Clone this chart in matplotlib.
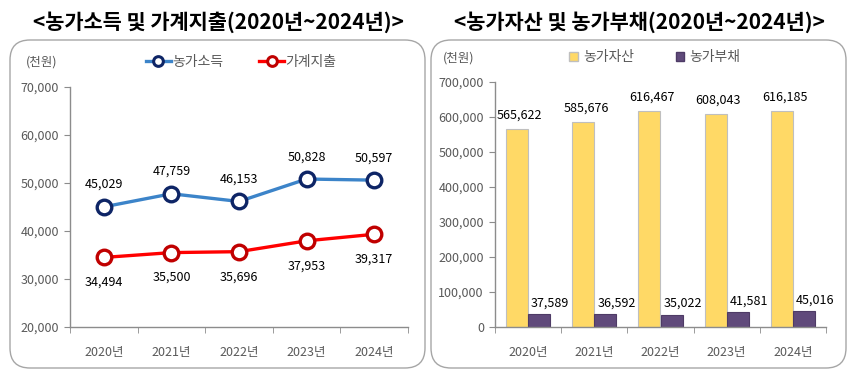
import numpy as np
import matplotlib
matplotlib.use("Agg")
import matplotlib.pyplot as plt
from matplotlib.patches import FancyBboxPatch, Patch
from matplotlib.lines import Line2D
from matplotlib.transforms import IdentityTransform
from matplotlib.ticker import FuncFormatter

plt.rcParams['font.family'] = ['Noto Sans CJK KR', 'DejaVu Sans']

years = ['2020년', '2021년', '2022년', '2023년', '2024년']
farm_income = [45029, 47759, 46153, 50828, 50597]
household_spend = [34494, 35500, 35696, 37953, 39317]
farm_assets = [565622, 585676, 616467, 608043, 616185]
farm_debt = [37589, 36592, 35022, 41581, 45016]

gray = '#595959'
axis_gray = '#8C8C8C'
fmt = FuncFormatter(lambda v, p: f'{int(v):,}')

fig = plt.figure(figsize=(8.5, 3.78), dpi=100)

# rounded panel frames (pixel coords)
for x0 in (10, 431):
    fig.patches.append(FancyBboxPatch((x0, 10), 415, 328,
                                      boxstyle='round,pad=0,rounding_size=20',
                                      transform=IdentityTransform(),
                                      facecolor='none', edgecolor='#A6A6A6',
                                      linewidth=1.0, zorder=-1))

fig.text(218/850, 1-22/378, '<농가소득 및 가계지출(2020년~2024년)>',
         ha='center', va='center', fontsize=15, fontweight='bold')
fig.text(639/850, 1-22/378, '<농가자산 및 농가부채(2020년~2024년)>',
         ha='center', va='center', fontsize=15, fontweight='bold')


def style_axis(ax):
    for s in ('top', 'right'):
        ax.spines[s].set_visible(False)
    for s in ('left', 'bottom'):
        ax.spines[s].set_color(axis_gray)
        ax.spines[s].set_linewidth(1.0)
    ax.set_xlim(-0.5, len(years) - 0.5)
    ax.set_xticks(range(len(years)))
    ax.set_xticklabels(years)
    ax.set_xticks(np.arange(-0.5, len(years)), minor=True)
    ax.tick_params(axis='x', which='major', length=0, pad=14, colors=gray, labelsize=9)
    ax.tick_params(axis='x', which='minor', length=4, color=axis_gray, direction='out')
    ax.tick_params(axis='y', length=4, color=axis_gray, colors=gray, labelsize=9, pad=4)
    ax.yaxis.set_major_formatter(fmt)
    ax.patch.set_alpha(0)


# left: income and spending lines
ax1 = fig.add_axes([70/850, 1-327/378, 338/850, 240/378])
x = np.arange(len(years))
ax1.plot(x, farm_income, color='#3C84C9', lw=2.4, marker='o', ms=10.5,
         mfc='white', mec='#0E2566', mew=2.4, zorder=3)
ax1.plot(x, household_spend, color='#FF0000', lw=2.4, marker='o', ms=10.5,
         mfc='white', mec='#C00000', mew=2.4, zorder=3)
for i in range(len(years)):
    ax1.annotate(f'{farm_income[i]:,}', (x[i], farm_income[i]), xytext=(0, 16),
                 textcoords='offset points', ha='center', va='center', fontsize=9)
    ax1.annotate(f'{household_spend[i]:,}', (x[i], household_spend[i]), xytext=(0, -18),
                 textcoords='offset points', ha='center', va='center', fontsize=9)
ax1.set_ylim(20000, 70000)
ax1.set_yticks(np.arange(20000, 70001, 10000))
style_axis(ax1)

fig.text(42/850, 1-62/378, '(천원)', ha='center', va='center', fontsize=9, color=gray)
h1 = [Line2D([], [], color='#3C84C9', lw=2.4, marker='o', ms=7, mfc='white',
             mec='#0E2566', mew=2.2),
      Line2D([], [], color='#FF0000', lw=2.4, marker='o', ms=7, mfc='white',
             mec='#C00000', mew=2.2)]
leg1 = fig.legend(h1, ['농가소득', '가계지출'], loc='center',
                  bbox_to_anchor=(241/850, 1-62/378), ncol=2, frameon=False,
                  fontsize=10, handlelength=1.8, handletextpad=0.1,
                  columnspacing=2.6)
for t in leg1.get_texts():
    t.set_color(gray)

# right: assets and debt bars
ax2 = fig.add_axes([495/850, 1-327/378, 331/850, 245/378])
w = 1/3
ax2.bar(x - w/2, farm_assets, width=w, color='#FFD966', edgecolor='#BFBFBF',
        linewidth=0.8, zorder=2)
ax2.bar(x + w/2, farm_debt, width=w, color='#604A7B', edgecolor='#4E3B66',
        linewidth=0.8, zorder=2)
for i in range(len(years)):
    ax2.annotate(f'{farm_assets[i]:,}', (x[i] - w/2, farm_assets[i]), xytext=(2, 10),
                 textcoords='offset points', ha='center', va='center', fontsize=9)
    ax2.annotate(f'{farm_debt[i]:,}', (x[i] + w/2, farm_debt[i]), xytext=(8, 8),
                 textcoords='offset points', ha='center', va='center', fontsize=9)
ax2.set_ylim(0, 700000)
ax2.set_yticks(np.arange(0, 700001, 100000))
style_axis(ax2)

fig.text(459/850, 1-58/378, '(천원)', ha='center', va='center', fontsize=9, color=gray)
h2 = [Patch(facecolor='#FFD966', edgecolor='#BFBFBF'),
      Patch(facecolor='#604A7B', edgecolor='#4E3B66')]
leg2 = fig.legend(h2, ['농가자산', '농가부채'], loc='center',
                  bbox_to_anchor=(655/850, 1-57/378), ncol=2, frameon=False,
                  fontsize=10, handlelength=0.6, handleheight=0.6,
                  handletextpad=0.4, columnspacing=3.0)
for t in leg2.get_texts():
    t.set_color(gray)

fig.savefig('out.png', dpi=100)
